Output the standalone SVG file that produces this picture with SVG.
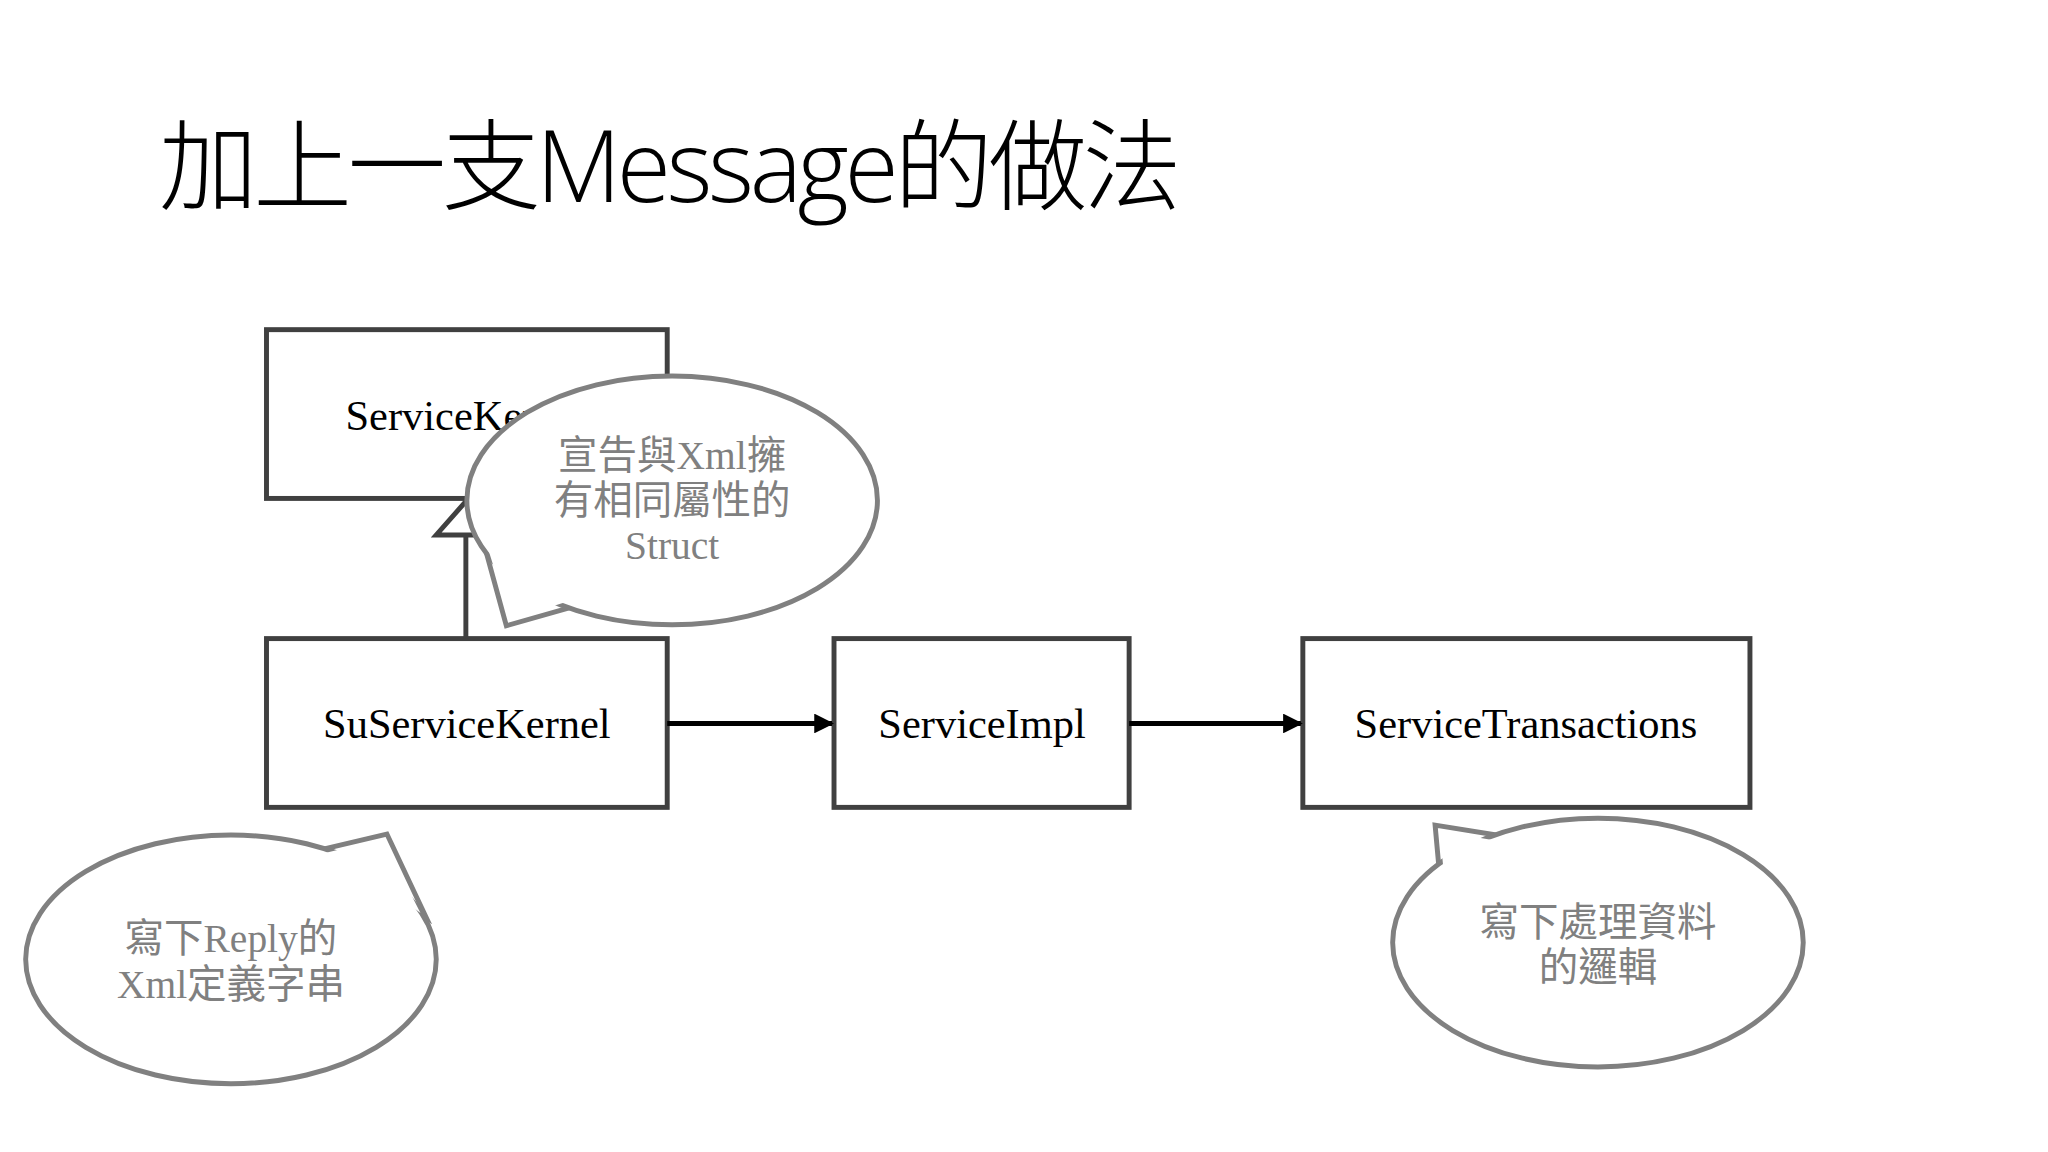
<svg xmlns="http://www.w3.org/2000/svg" width="2048" height="1152" viewBox="0 0 2048 1152">
<style>
.box{fill:#fff;stroke:#404040;stroke-width:5}
.lbl{font-family:"Liberation Serif",serif;font-size:43px;fill:#000;text-anchor:middle}
.co{fill:#fff;stroke:#808080;stroke-width:5}
.cf{fill:#fff;stroke:none}
.ct{font-family:"Liberation Serif","Noto Sans CJK TC",serif;font-size:40px;fill:#808080;text-anchor:middle}
.ln{stroke:#000;stroke-width:5;fill:none}
</style>
<defs>
<marker id="ah" viewBox="0 0 10 10" refX="9" refY="5" markerWidth="4" markerHeight="4" orient="auto"><path d="M0,0 L10,5 L0,10 z" fill="#000"/></marker>
</defs>
<rect width="2048" height="1152" fill="#fff"/>
<g transform="scale(0.987)">
<text x="161" y="205" font-family="'Open Sans','Noto Sans CJK TC',sans-serif" font-weight="300" font-size="100" fill="#000" textLength="1036">加上一支Message的做法</text>
<g id="n1"><rect class="box" x="270" y="334" width="406" height="171"/><text class="lbl" x="473" y="436">ServiceKernel</text></g>
<g id="n2"><rect class="box" x="270" y="647" width="406" height="171"/><text class="lbl" x="473" y="748">SuServiceKernel</text></g>
<g id="n3"><rect class="box" x="845" y="647" width="299" height="171"/><text class="lbl" x="995" y="748">ServiceImpl</text></g>
<g id="n4"><rect class="box" x="1320" y="647" width="453" height="171"/><text class="lbl" x="1546" y="748">ServiceTransactions</text></g>
<g id="edges">
<line x1="472" y1="647" x2="472" y2="542" stroke="#404040" stroke-width="5"/>
<polygon points="472,508 442,542 502,542" fill="#fff" stroke="#404040" stroke-width="5"/>
<line class="ln" x1="676" y1="733" x2="843" y2="733" marker-end="url(#ah)"/>
<line class="ln" x1="1144" y1="733" x2="1318" y2="733" marker-end="url(#ah)"/>
</g>
<g id="c1">
<polygon class="co" points="490,550 513,634 590,612"/>
<ellipse class="co" cx="681" cy="507" rx="208" ry="126"/>
<polygon class="cf" points="492,548 517,628 586,606 560,570"/>
<text class="ct" x="681" y="475">宣告與Xml擁</text>
<text class="ct" x="681" y="521">有相同屬性的</text>
<text class="ct" x="681" y="566">Struct</text>
</g>
<g id="c2">
<polygon class="co" points="320,862 392,845 432,930"/>
<ellipse class="co" cx="234" cy="972" rx="208" ry="126"/>
<polygon class="cf" points="322,866 388,850 426,925 380,890"/>
<text class="ct" x="234" y="965">寫下Reply的</text>
<text class="ct" x="234" y="1011">Xml定義字串</text>
</g>
<g id="c3">
<polygon class="co" points="1516,846 1454,836 1458,880"/>
<ellipse class="co" cx="1619" cy="955" rx="208" ry="126"/>
<polygon class="cf" points="1512,851 1459,842 1462,876 1490,862"/>
<text class="ct" x="1619" y="948">寫下處理資料</text>
<text class="ct" x="1619" y="994">的邏輯</text>
</g>
</g>
</svg>
